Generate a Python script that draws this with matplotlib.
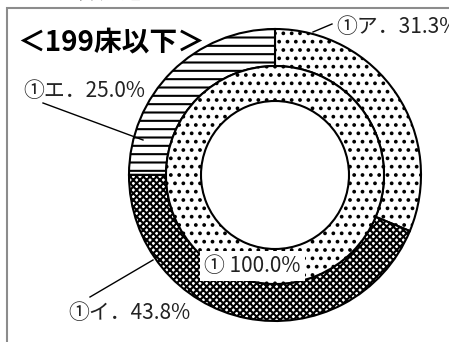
import matplotlib
matplotlib.use('Agg')
import matplotlib.pyplot as plt
from matplotlib.patches import Rectangle

plt.rcParams['font.family'] = ['Noto Sans CJK JP', 'DejaVu Sans']
plt.rcParams['hatch.linewidth'] = 1.5
plt.rcParams['hatch.color'] = 'black'

# data
outer_labels = ['①ア．31.3%', '①イ．43.8%', '①エ．25.0%']
outer_values = [31.3, 43.8, 25.0]
outer_hatches = ['..', 'xxxxx', '--']
inner_labels = ['① 100.0%']
inner_values = [100.0]
title = '＜199床以下＞'
header = '【病床数別】'

W, H = 449, 342
fig = plt.figure(figsize=(W / 100, H / 100), dpi=100)
ax = fig.add_axes([0, 0, 1, 1])

# donut centre in pixel coords (y up)
cx, cy = 275, H - 175

outer = ax.pie(outer_values, radius=146, center=(cx, cy), startangle=90,
               counterclock=False, colors=['white'] * 3,
               wedgeprops=dict(width=37, edgecolor='black', linewidth=1.5))
for w, h in zip(outer[0], outer_hatches):
    w.set_hatch(h)

inner = ax.pie(inner_values, radius=109, center=(cx, cy), startangle=90,
               counterclock=False, colors=['white'],
               wedgeprops=dict(width=35, edgecolor='black', linewidth=1.5))
inner[0][0].set_hatch('..')

ax.set_xlim(0, W)
ax.set_ylim(0, H)
ax.set_aspect('auto')
ax.axis('off')

# grey frame
ax.add_patch(Rectangle((7, -20), W + 20, H - 8 + 20, fill=False,
                       edgecolor='#8c8c8c', linewidth=1.5, zorder=5))

# header (cut off at top) and title
ax.text(0, H + 9, header, fontsize=19, fontweight='bold', ha='left', va='center')
ax.text(17, H - 42, title, fontsize=20, fontweight='bold', ha='left', va='center')

fs = 15
# leader lines and labels (outer ring)
ax.plot([313, 332], [H - 32, H - 24], color='black', lw=1)
ax.text(336, H - 27, outer_labels[0], fontsize=fs, ha='left', va='center', color='#222222')
ax.plot([90, 153], [H - 297, H - 260], color='black', lw=1)
ax.text(68, H - 313, outer_labels[1], fontsize=fs, ha='left', va='center', color='#222222')
ax.plot([43, 143], [H - 103, H - 140], color='black', lw=1)
ax.text(23, H - 91, outer_labels[2], fontsize=fs, ha='left', va='center', color='#222222')

# inner label with white box
ax.text(204, H - 266, inner_labels[0], fontsize=fs, ha='left', va='center', color='#222222',
        bbox=dict(facecolor='white', edgecolor='none', pad=3), zorder=6)

fig.savefig('out.png', dpi=100)
